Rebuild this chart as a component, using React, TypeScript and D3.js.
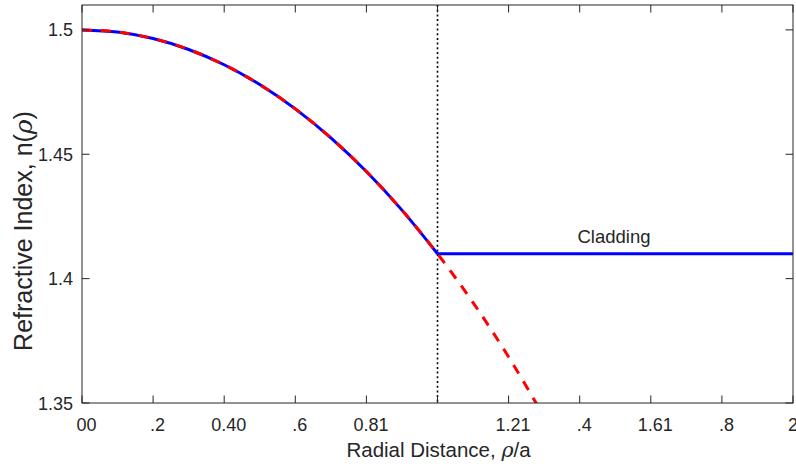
import React from "react";
import * as d3 from "d3";

// Radial distance samples (rho/a) and read-off refractive index values
const coreRho = [0, 0.1, 0.2, 0.3, 0.4, 0.5, 0.6, 0.7, 0.8, 0.9, 1.0];
const coreN = [1.5, 1.49913, 1.4965, 1.49212, 1.48597, 1.47801, 1.46824, 1.4566, 1.44305, 1.42754, 1.41];
const extRho = [0, 0.1, 0.2, 0.3, 0.4, 0.5, 0.6, 0.7, 0.8, 0.9, 1.0, 1.1, 1.2, 1.3];
const extN = [1.5, 1.49913, 1.4965, 1.49212, 1.48597, 1.47801, 1.46824, 1.4566, 1.44305, 1.42754, 1.41, 1.39036, 1.36852, 1.34439];
const claddingRho = [1.0, 2.0];
const claddingN = [1.41, 1.41];
const coreBoundary = 1.0;

const xTicks = [0, 0.2, 0.4, 0.6, 0.8, 1.0, 1.2, 1.4, 1.6, 1.8, 2.0];
const xTickLabels = ["00", ".2", "0.40", ".6", "0.81", "", "1.21", ".4", "1.61", ".8", "2"];
const yTicks = [1.35, 1.4, 1.45, 1.5];
const yTickLabels = ["1.35", "1.4", "1.45", "1.5"];
const xDomain = [0, 2];
const yDomain = [1.35, 1.51];

const W = 796;
const H = 467;
const L = 82, R = 793, T = 5, B = 403;
const AX = "#262626";
const FONT = "'Liberation Sans', Arial, Helvetica, sans-serif";

export default function App() {
  const x = d3.scaleLinear().domain(xDomain).range([L, R]);
  const y = d3.scaleLinear().domain(yDomain).range([B, T]);
  const line = d3
    .line<[number, number]>()
    .x((d) => x(d[0]))
    .y((d) => y(d[1]))
    .curve(d3.curveMonotoneX);
  const lin = d3
    .line<[number, number]>()
    .x((d) => x(d[0]))
    .y((d) => y(d[1]));

  const core = coreRho.map((r, i) => [r, coreN[i]] as [number, number]);
  const ext = extRho.map((r, i) => [r, extN[i]] as [number, number]);
  const clad = claddingRho.map((r, i) => [r, claddingN[i]] as [number, number]);
  const tl = 7.5;

  return (
    <svg
      width={W}
      height={H}
      style={{ position: "absolute", left: 0, top: 0, background: "#fff" }}
      fontFamily={FONT}
    >
      <defs>
        <clipPath id="plotclip">
          <rect x={L} y={T} width={R - L} height={B - T} />
        </clipPath>
      </defs>
      <rect x={0} y={0} width={W} height={H} fill="#fff" />
      <g clipPath="url(#plotclip)">
        <line
          x1={x(coreBoundary)}
          x2={x(coreBoundary)}
          y1={T}
          y2={B}
          stroke="#000"
          strokeWidth={1.6}
          strokeDasharray="2,2.7"
        />
        <path d={line(core) || ""} fill="none" stroke="#0000ff" strokeWidth={3} />
        <path d={lin(clad) || ""} fill="none" stroke="#0000ff" strokeWidth={3} />
        <path
          d={line(ext) || ""}
          fill="none"
          stroke="#ff0000"
          strokeWidth={3}
          strokeDasharray="10,9"
        />
      </g>
      {/* box */}
      <rect x={L} y={T} width={R - L} height={B - T} fill="none" stroke={AX} strokeWidth={1} />
      {/* x ticks */}
      {xTicks.map((t, i) => (
        <g key={"xt" + i}>
          <line x1={x(t)} x2={x(t)} y1={B} y2={B - tl} stroke={AX} />
          <line x1={x(t)} x2={x(t)} y1={T} y2={T + tl} stroke={AX} />
          <text
            x={x(t) + (i === xTicks.length - 1 ? 0 : 4.5)}
            y={430.5}
            textAnchor="middle"
            fontSize={18}
            fill={AX}
          >
            {xTickLabels[i]}
          </text>
        </g>
      ))}
      {/* y ticks */}
      {yTicks.map((t, i) => (
        <g key={"yt" + i}>
          <line x1={L} x2={L + tl} y1={y(t)} y2={y(t)} stroke={AX} />
          <line x1={R} x2={R - tl} y1={y(t)} y2={y(t)} stroke={AX} />
          <text x={73} y={y(t) + 6.5} textAnchor="end" fontSize={18} fill={AX}>
            {yTickLabels[i]}
          </text>
        </g>
      ))}
      <text x={438.5} y={457} textAnchor="middle" fontSize={20.5} fill={AX}>
        Radial Distance, <tspan fontStyle="italic" fontFamily="'DejaVu Serif', serif">ρ</tspan>/a
      </text>
      <text
        transform={`translate(32,231) rotate(-90)`}
        textAnchor="middle"
        fontSize={25}
        fill={AX}
      >
        Refractive Index, n(<tspan fontStyle="italic" fontFamily="'DejaVu Serif', serif">ρ</tspan>)
      </text>
      <text x={614} y={242.5} textAnchor="middle" fontSize={18.5} fill={AX}>
        Cladding
      </text>
    </svg>
  );
}
